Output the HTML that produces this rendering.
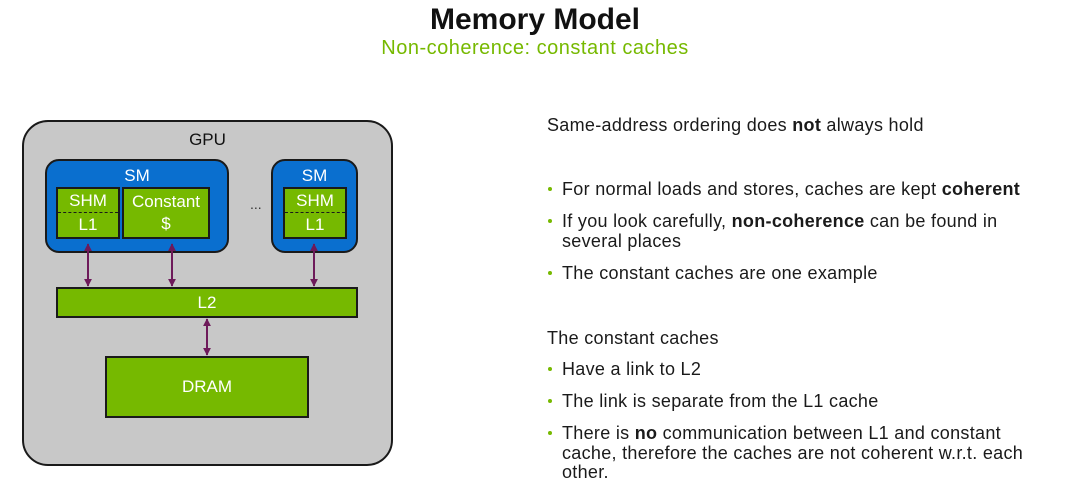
<!DOCTYPE html>
<html><head><meta charset="utf-8"><style>
body{margin:0;width:1080px;height:488px;background:#fff;position:relative;overflow:hidden;font-family:"Liberation Sans",sans-serif}
.a{position:absolute}
.t{position:absolute;font-size:18px;letter-spacing:0.3px;color:#1a1a1a;white-space:nowrap;line-height:20px}
.b{position:absolute;left:548px;width:4px;height:4px;background:#76b900;border-radius:2px}
.g{position:absolute;background:#76b900;border:2px solid #1a1a1a;box-sizing:border-box;color:#fff;text-align:center;font-size:17px}
.sm{position:absolute;background:#0a6fcf;border:2px solid #1a1a1a;border-radius:14px;box-sizing:border-box;color:#fff;text-align:center;font-size:17px}
</style></head><body>
<div class="a" style="left:0;width:1070px;top:3px;text-align:center;font-size:30px;font-weight:bold;color:#111">Memory Model</div>
<div class="a" style="left:0;width:1070px;top:37px;text-align:center;font-size:20px;letter-spacing:0.5px;color:#76b900">Non-coherence: constant caches</div>

<div class="a" style="left:22px;top:120px;width:371px;height:346px;background:#c8c8c8;border:2px solid #1a1a1a;border-radius:26px;box-sizing:border-box"></div>
<div class="a" style="left:22px;width:371px;top:130px;text-align:center;font-size:17px;color:#111">GPU</div>

<div class="sm" style="left:45px;top:159px;width:184px;height:94px;padding-top:5px">SM</div>
<div class="sm" style="left:271px;top:159px;width:87px;height:94px;padding-top:5px">SM</div>
<div class="a" style="left:250px;top:196px;font-size:14px;color:#333">...</div>

<div class="g" style="left:56px;top:187px;width:64px;height:52px;line-height:24px">SHM<br>L1</div>
<div class="a" style="left:58px;top:212px;width:60px;border-top:1.5px dashed #1a1a1a"></div>
<div class="g" style="left:122px;top:187px;width:88px;height:52px;line-height:22px;padding-top:2px">Constant<br>$</div>
<div class="g" style="left:283px;top:187px;width:64px;height:52px;line-height:24px">SHM<br>L1</div>
<div class="a" style="left:285px;top:212px;width:60px;border-top:1.5px dashed #1a1a1a"></div>

<div class="g" style="left:56px;top:287px;width:302px;height:31px;line-height:27px">L2</div>
<div class="g" style="left:105px;top:356px;width:204px;height:62px;line-height:58px">DRAM</div>

<svg class="a" style="left:0;top:0" width="400" height="488">
<defs><marker id="m" viewBox="0 0 10 10" refX="9" refY="5" markerWidth="4" markerHeight="4" orient="auto-start-reverse"><path d="M0,0L10,5L0,10z" fill="#6e1a5a"/></marker></defs>
<g stroke="#6e1a5a" stroke-width="2" marker-start="url(#m)" marker-end="url(#m)">
<line x1="88" y1="244" x2="88" y2="286"/>
<line x1="172" y1="244" x2="172" y2="286"/>
<line x1="314" y1="244" x2="314" y2="286"/>
<line x1="207" y1="319" x2="207" y2="355"/>
</g></svg>

<div class="t" style="left:547px;top:115px">Same-address ordering does <b>not</b> always hold</div>
<div class="b" style="top:187px"></div><div class="t" style="left:562px;top:179px">For normal loads and stores, caches are kept <b>coherent</b></div>
<div class="b" style="top:219px"></div><div class="t" style="left:562px;top:211px">If you look carefully, <b>non-coherence</b> can be found in</div>
<div class="t" style="left:562px;top:231px">several places</div>
<div class="b" style="top:271px"></div><div class="t" style="left:562px;top:263px">The constant caches are one example</div>
<div class="t" style="left:547px;top:328px">The constant caches</div>
<div class="b" style="top:367px"></div><div class="t" style="left:562px;top:359px">Have a link to L2</div>
<div class="b" style="top:399px"></div><div class="t" style="left:562px;top:391px">The link is separate from the L1 cache</div>
<div class="b" style="top:431px"></div><div class="t" style="left:562px;top:423px">There is <b>no</b> communication between L1 and constant</div>
<div class="t" style="left:562px;top:443px">cache, therefore the caches are not coherent w.r.t. each</div>
<div class="t" style="left:562px;top:462px">other.</div>
</body></html>
